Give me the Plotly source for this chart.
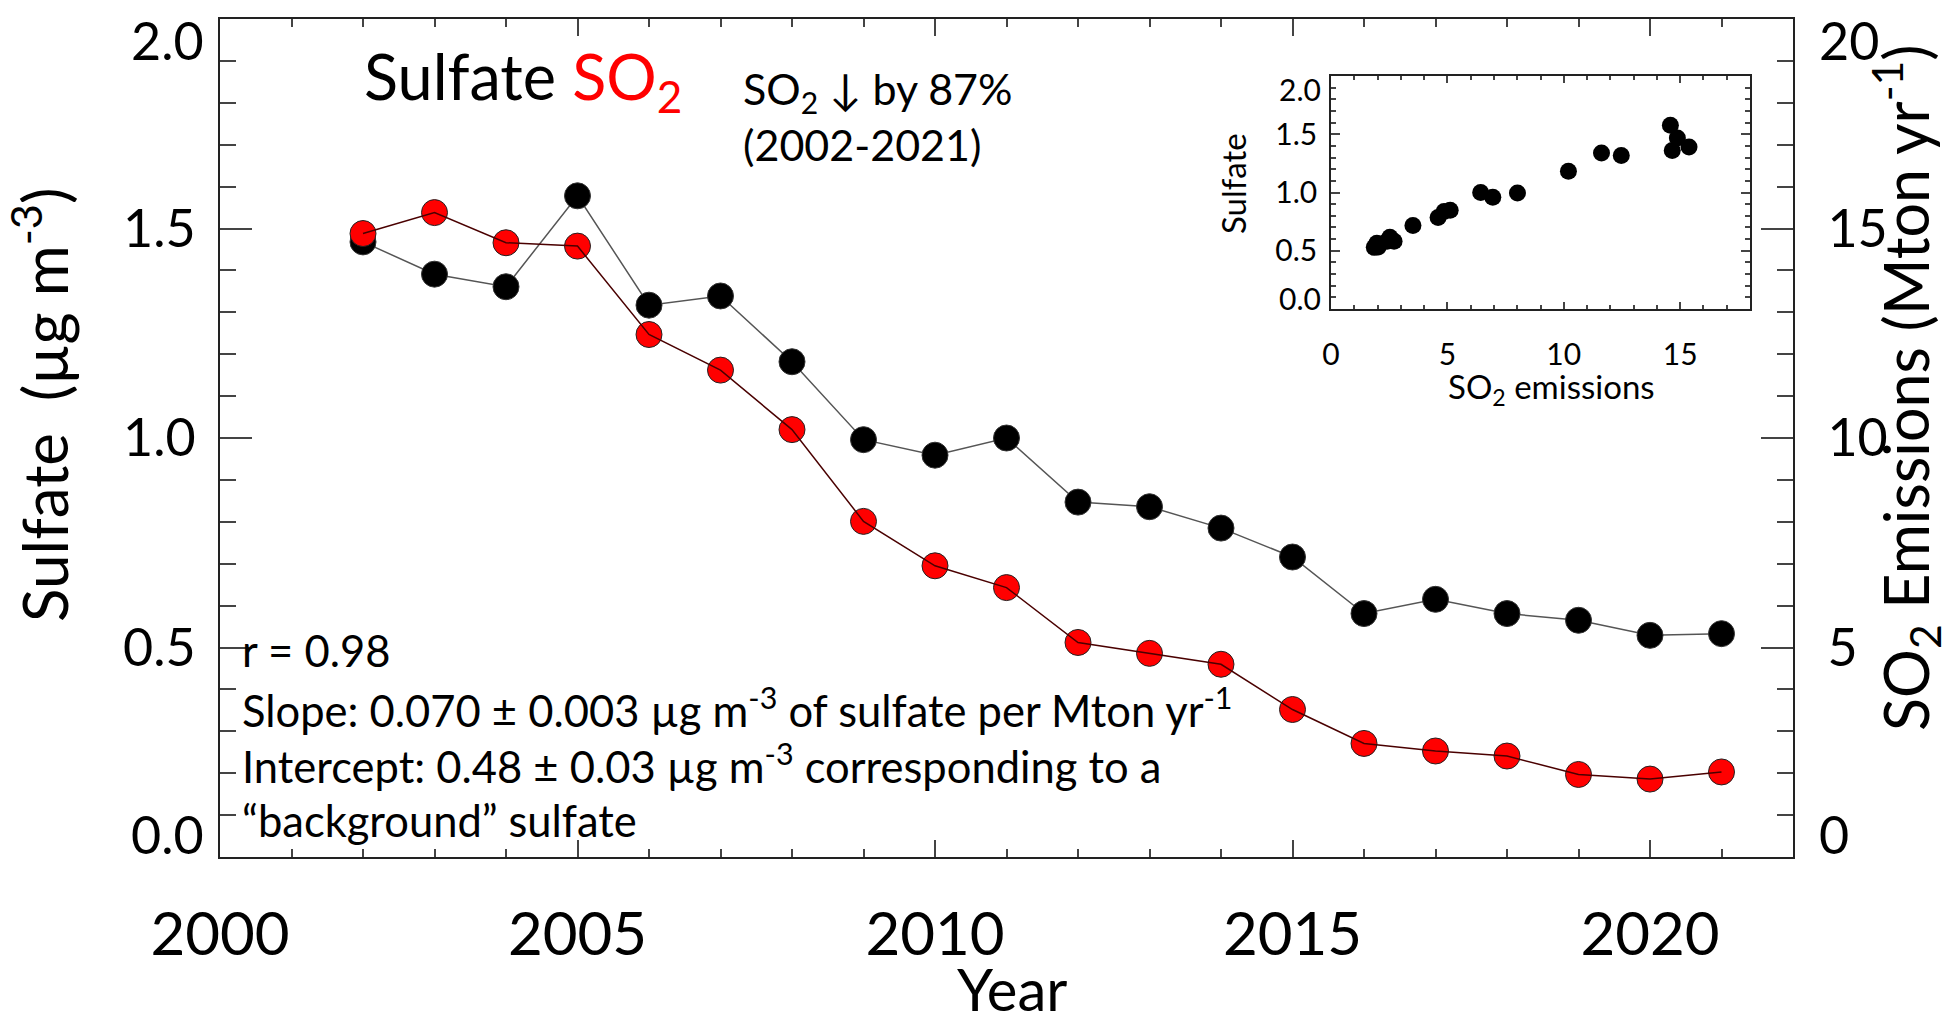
import plotly.graph_objects as go

# ---------------- data ----------------
years = list(range(2002, 2022))
sulfate = [1.468, 1.391, 1.361, 1.578, 1.317, 1.339, 1.182, 0.996, 0.959, 1.000,
           0.847, 0.836, 0.785, 0.716, 0.581, 0.615, 0.581, 0.565, 0.529, 0.533]
so2_emis = [14.88, 15.38, 14.66, 14.58, 12.47, 11.62, 10.20, 8.01, 6.95, 6.43,
            5.12, 4.86, 4.60, 3.52, 2.71, 2.53, 2.41, 1.97, 1.86, 2.03]

x_tick_vals = [2000, 2005, 2010, 2015, 2020]
x_tick_text = ["2000", "2005", "2010", "2015", "2020"]
yl_tick_vals = [0.0, 0.5, 1.0, 1.5, 2.0]
yl_tick_text = ["0.0", "0.5", "1.0", "1.5", "2.0"]
yr_tick_vals = [0, 5, 10, 15, 20]
yr_tick_text = ["0", "5", "10", "15", "20"]
ins_x_vals = [0, 5, 10, 15]
ins_x_text = ["0", "5", "10", "15"]
ins_y_vals = [0.0, 0.5, 1.0, 1.5, 2.0]
ins_y_text = ["0.0", "0.5", "1.0", "1.5", "2.0"]

# ---------------- geometry helpers ----------------
W, H = 1955, 1022
L, R, T, B = 220, 1793, 19, 857


def px(xp):
    return (xp - L) / (R - L)


def py(yp):
    return (B - yp) / (B - T)


FONT = "Lato, 'Open Sans', sans-serif"

fig = go.Figure()
fig.add_trace(go.Scatter(x=years, y=sulfate, mode="lines",
                         line=dict(color="#555555", width=1.5),
                         xaxis="x", yaxis="y", hoverinfo="skip"))
fig.add_trace(go.Scatter(x=years, y=sulfate, mode="markers",
                         marker=dict(color="black", size=26, line=dict(color="#333", width=1)),
                         xaxis="x", yaxis="y"))
fig.add_trace(go.Scatter(x=years, y=so2_emis, mode="markers",
                         marker=dict(color="#ff0000", size=26, line=dict(color="#222", width=1)),
                         xaxis="x", yaxis="y2"))
fig.add_trace(go.Scatter(x=years, y=so2_emis, mode="lines",
                         line=dict(color="#4a0000", width=1.5),
                         xaxis="x", yaxis="y2", hoverinfo="skip"))
# inset scatter
fig.add_trace(go.Scatter(x=so2_emis, y=sulfate, mode="markers",
                         marker=dict(color="black", size=17),
                         xaxis="x3", yaxis="y3"))

axis_common = dict(showgrid=False, zeroline=False, showline=True,
                   linecolor="#222", linewidth=2, ticks="inside",
                   tickcolor="#444", tickwidth=2)

inset_x0, inset_x1 = px(1331), px(1750)
inset_y0, inset_y1 = py(309), py(76)

fig.update_layout(
    width=W, height=H,
    margin=dict(l=L, r=W - R, t=T, b=H - B, pad=0),
    paper_bgcolor="white", plot_bgcolor="white",
    showlegend=False,
    font=dict(family=FONT, color="black"),
    xaxis=dict(axis_common, range=[2000, 2022], domain=[0, 1], anchor="y",
               tickmode="array", tickvals=x_tick_vals, ticktext=x_tick_text,
               ticklen=17, mirror="ticks",
               minor=dict(tickmode="linear", tick0=2000, dtick=1, ticks="inside",
                          ticklen=8, tickwidth=2, tickcolor="#444"),
               tickfont=dict(family=FONT, size=60), ticklabelstandoff=24),
    # end labels (0.0 / 2.0) are drawn separately, clamped inside the frame
    yaxis=dict(axis_common, range=[0, 2], anchor="x",
               tickmode="array", tickvals=yl_tick_vals[1:-1],
               ticktext=yl_tick_text[1:-1],
               ticklen=32,
               minor=dict(tickmode="linear", tick0=0, dtick=0.1, ticks="inside",
                          ticklen=16, tickwidth=2, tickcolor="#444"),
               tickfont=dict(family=FONT, size=52), ticklabelstandoff=12),
    yaxis2=dict(axis_common, range=[0, 20], overlaying="y", side="right", anchor="x",
                tickmode="array", tickvals=yr_tick_vals[1:-1],
                ticktext=yr_tick_text[1:-1],
                ticklen=32,
                minor=dict(tickmode="linear", tick0=0, dtick=1, ticks="inside",
                           ticklen=16, tickwidth=2, tickcolor="#444"),
                tickfont=dict(family=FONT, size=52), ticklabelstandoff=22),
    xaxis3=dict(axis_common, range=[0, 18], domain=[inset_x0, inset_x1], anchor="y3",
                linewidth=1.5, tickwidth=1.5, mirror="ticks",
                tickmode="array", tickvals=ins_x_vals, ticktext=ins_x_text,
                ticklen=7,
                minor=dict(tickmode="linear", tick0=0, dtick=1, ticks="inside",
                           ticklen=4, tickwidth=1.5, tickcolor="#444"),
                tickfont=dict(family=FONT, size=30), ticklabelstandoff=18),
    yaxis3=dict(axis_common, range=[0, 2], domain=[inset_y0, inset_y1], anchor="x3",
                linewidth=1.5, tickwidth=1.5, mirror="ticks",
                tickmode="array", tickvals=ins_y_vals[1:-1],
                ticktext=ins_y_text[1:-1],
                ticklen=9,
                minor=dict(tickmode="linear", tick0=0, dtick=0.1, ticks="inside",
                           ticklen=5, tickwidth=1.5, tickcolor="#444"),
                tickfont=dict(family=FONT, size=30), ticklabelstandoff=6),
)

ann = []


def add(text, x, y, size, xanchor="left", yanchor="middle", angle=0, color="black",
        family=FONT, align="left"):
    ann.append(dict(text=text, x=x, y=y, xref="paper", yref="paper",
                    xanchor=xanchor, yanchor=yanchor, showarrow=False,
                    textangle=angle, align=align,
                    font=dict(family=family, size=size, color=color)))


# clamped end tick labels (main axes)
add(yl_tick_text[-1], px(206), py(40), 52, xanchor="right")
add(yl_tick_text[0], px(206), py(834), 52, xanchor="right")
add(yr_tick_text[-1], px(1817), py(40), 52, xanchor="left")
add(yr_tick_text[0], px(1817), py(834), 52, xanchor="left")
# clamped end tick labels (inset)
add(ins_y_text[-1], px(1323), py(89), 30, xanchor="right")
add(ins_y_text[0], px(1323), py(298), 30, xanchor="right")

# axis titles
add("Sulfate\u00a0 (µg m<sup>-3</sup>)", px(40), py(405), 62, xanchor="center", angle=-90)
add("SO<sub>2</sub> Emissions (Mton yr<sup>-1</sup>)", px(1905), py(388), 61,
    xanchor="center", angle=-90)
add("Year", px(1012), py(988), 58, xanchor="center")
# inset titles
add("SO<sub>2</sub> emissions", px(1551), py(388), 33, xanchor="center")
add("Sulfate", px(1233), py(184), 33, xanchor="center", angle=-90)

# in-plot texts
add("Sulfate <span style='color:#ff0000'>SO<sub>2</sub></span>", px(362), py(80), 63)
add("SO<sub>2</sub> ↓ by 87%<br>(2002-2021)", px(741), py(117), 43)
add("r = 0.98", px(240), py(650), 43.5)
add("Slope: 0.070 ± 0.003 µg m<sup>-3</sup> of sulfate per Mton yr<sup>-1</sup>", px(240), py(707), 43.5)
add("Intercept: 0.48 ± 0.03 µg m<sup>-3</sup> corresponding to a", px(240), py(763), 43.5)
add("“background” sulfate", px(240), py(820), 43.5)

fig.update_layout(annotations=ann)
fig.write_html("out.html")
